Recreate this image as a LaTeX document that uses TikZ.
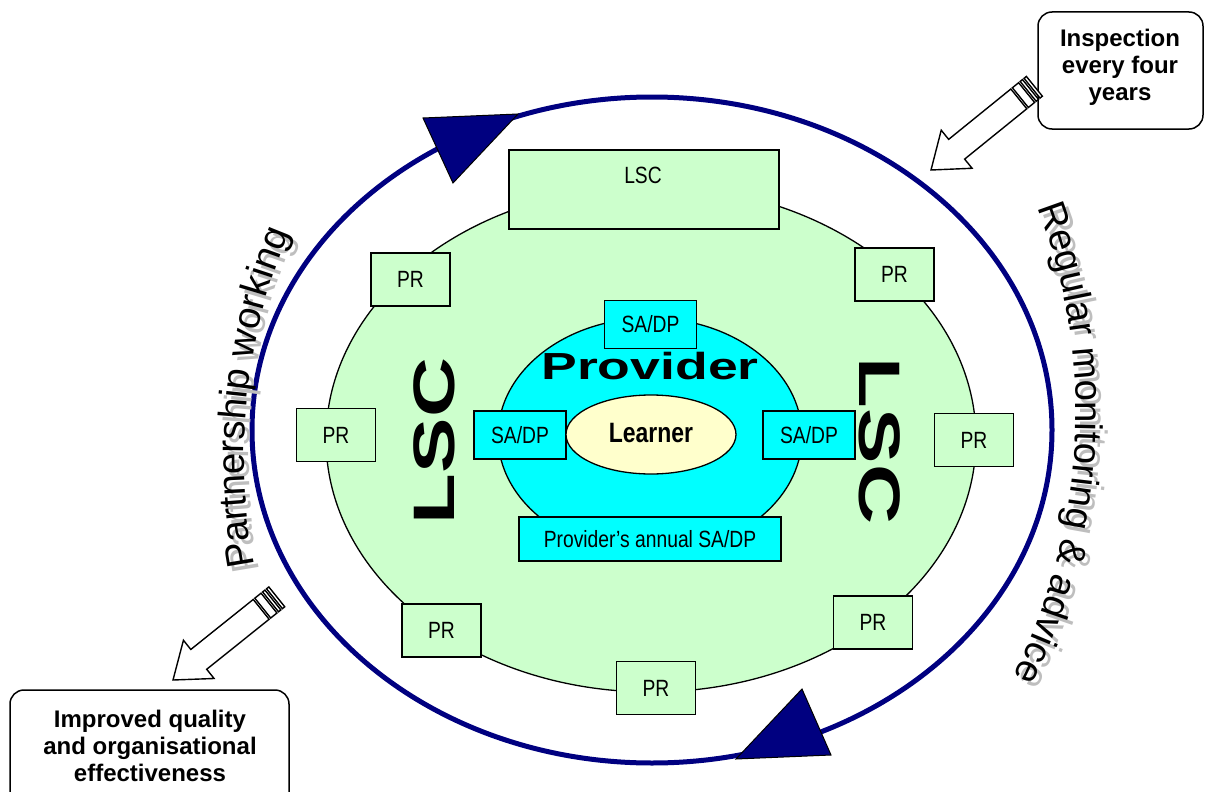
\documentclass[tikz,border=0pt]{standalone}
\usepackage{fontspec}
\setmainfont{Liberation Sans}
\newfontfamily\narrowfont[FakeStretch=0.82]{Liberation Sans}
\newfontfamily\widefont[FakeStretch=1.42]{Liberation Sans}
\usetikzlibrary{decorations.text}
\definecolor{navyc}{RGB}{0,0,128}
\definecolor{lgreen}{RGB}{204,255,204}
\definecolor{cyanc}{RGB}{0,255,255}
\definecolor{cream}{RGB}{255,255,204}
\definecolor{shadowgray}{RGB}{190,190,190}
\newcommand{\stripedarrow}[3]{%
  \begin{scope}[shift={(#1,#2)}, rotate=#3]
    \draw[blockline] (0,0) -- (33,-24.5) -- (33,-12.7) -- (113,-12.7) -- (113,12.7) -- (33,12.7) -- (33,24.5) -- cycle;
    \draw[blockline] (115,-12.7) rectangle (123,12.7);
    \draw[blockline] (125,-12.7) rectangle (128,12.7);
    \draw[blockline] (130,-12.7) rectangle (133,12.7);
  \end{scope}}
\newcommand{\curvetext}{\fontsize{38.5}{40}\selectfont}
\begin{document}
\begin{tikzpicture}[x=1pt,y=-1pt,
  blockline/.style={draw=black, line width=1.4pt, fill=white, line join=miter},
  prbox/.style={draw=black, line width=1.8pt, fill=lgreen, minimum width=79pt, minimum height=53pt, inner sep=0pt, font=\narrowfont\fontsize{23.5}{27}\selectfont},
  sabox/.style={draw=black, line width=1.8pt, fill=cyanc, minimum width=92pt, minimum height=48pt, inner sep=0pt, font=\narrowfont\fontsize{23.5}{27}\selectfont},
  roundbox/.style={draw=black, line width=1.5pt, fill=white, rounded corners=14pt, inner sep=0pt},
  boldlabel/.style={font=\bfseries\fontsize{24}{27}\selectfont, align=center, inner sep=0pt},
  navytri/.style={fill=navyc, draw=black, line width=1pt, line join=miter}
]
\useasboundingbox (0,0) rectangle (1205,792);

% outer navy cycle
\draw[navyc, line width=5pt] (652,430) ellipse [x radius=400, y radius=333];
\filldraw[navytri] (423,118) -- (518,114) -- (453,183) -- cycle;
\filldraw[navytri] (802,689) -- (831,755) -- (736,759) -- cycle;

% curved labels with shadow
\path[decorate, decoration={text along path, text={|\curvetext\color{shadowgray}|Partnership working}, text align=center}]
  (828,462) ++(161:579) arc[start angle=161, end angle=211, radius=579];
\path[decorate, decoration={text along path, text={|\curvetext|Partnership working}, text align=center}]
  (823,457) ++(161:579) arc[start angle=161, end angle=211, radius=579];
\path[decorate, decoration={text along path, text={|\curvetext\color{shadowgray}|Regular monitoring {\&} advice}, text align=center}]
  (503,419) ++(-23:578) arc[start angle=-23, end angle=29, radius=578];
\path[decorate, decoration={text along path, text={|\curvetext|Regular monitoring {\&} advice}, text align=center}]
  (498,414) ++(-23:578) arc[start angle=-23, end angle=29, radius=578];

% LSC green ellipse
\draw[fill=lgreen, draw=black, line width=1.3pt] (651,439) ellipse [x radius=325, y radius=253];
\node[draw=black, line width=1.8pt, fill=lgreen, minimum width=270pt, minimum height=79pt, inner sep=0pt] (lsctop) at (644,189.5) {};
\node[font=\narrowfont\fontsize{23.5}{27}\selectfont, inner sep=0pt] (lsctoplabel) at (643,175) {LSC};

\node[prbox] (pr1) at (410.5,279.5) {PR};
\node[prbox] (pr2) at (894.5,274.5) {PR};
\node[prbox] (pr3) at (336,435) {PR};
\node[prbox] (pr4) at (974,440) {PR};
\node[prbox] (pr5) at (441.5,630.5) {PR};
\node[prbox] (pr6) at (873,622.5) {PR};
\node[prbox] (pr7) at (656,688) {PR};

\node[rotate=90, font=\widefont\bfseries\fontsize{58.5}{60}\selectfont, inner sep=0pt] (lscleft) at (434,441) {LSC};
\node[rotate=-90, font=\widefont\bfseries\fontsize{58.5}{60}\selectfont, inner sep=0pt] (lscright) at (880,441) {LSC};

% provider
\draw[fill=cyanc, draw=black, line width=1.3pt] (650,436) ellipse [x radius=152, y radius=118];
\node[sabox] (satop) at (650.5,324.5) {SA/DP};
\node[sabox] (saleft) at (520,435) {SA/DP};
\node[sabox] (saright) at (809,435) {SA/DP};
\node[sabox, minimum width=262pt, minimum height=44pt] (annual) at (650,539) {Provider’s annual SA/DP};
\node[font=\widefont\bfseries\fontsize{37.7}{40}\selectfont, inner sep=0pt] (provider) at (650,366) {Provider};

\draw[fill=cream, draw=black, line width=1.3pt] (651,434.5) ellipse [x radius=85, y radius=39.5];
\node[font=\narrowfont\bfseries\fontsize{28}{30}\selectfont, inner sep=0pt] (learner) at (651,433) {Learner};

% outside boxes
\node[roundbox, minimum width=165pt, minimum height=117pt] (inspbox) at (1120.5,70.5) {};
\node[boldlabel] (insp) at (1120,67.5) {Inspection\\every four\\years};
\node[roundbox, minimum width=279pt, minimum height=120pt] (impbox) at (149.5,750) {};
\node[boldlabel] (imp) at (150,746) {Improved quality\\and organisational\\effectiveness};

% striped block arrows
\stripedarrow{931}{170}{39}
\stripedarrow{173}{680}{38.7}
\end{tikzpicture}
\end{document}
